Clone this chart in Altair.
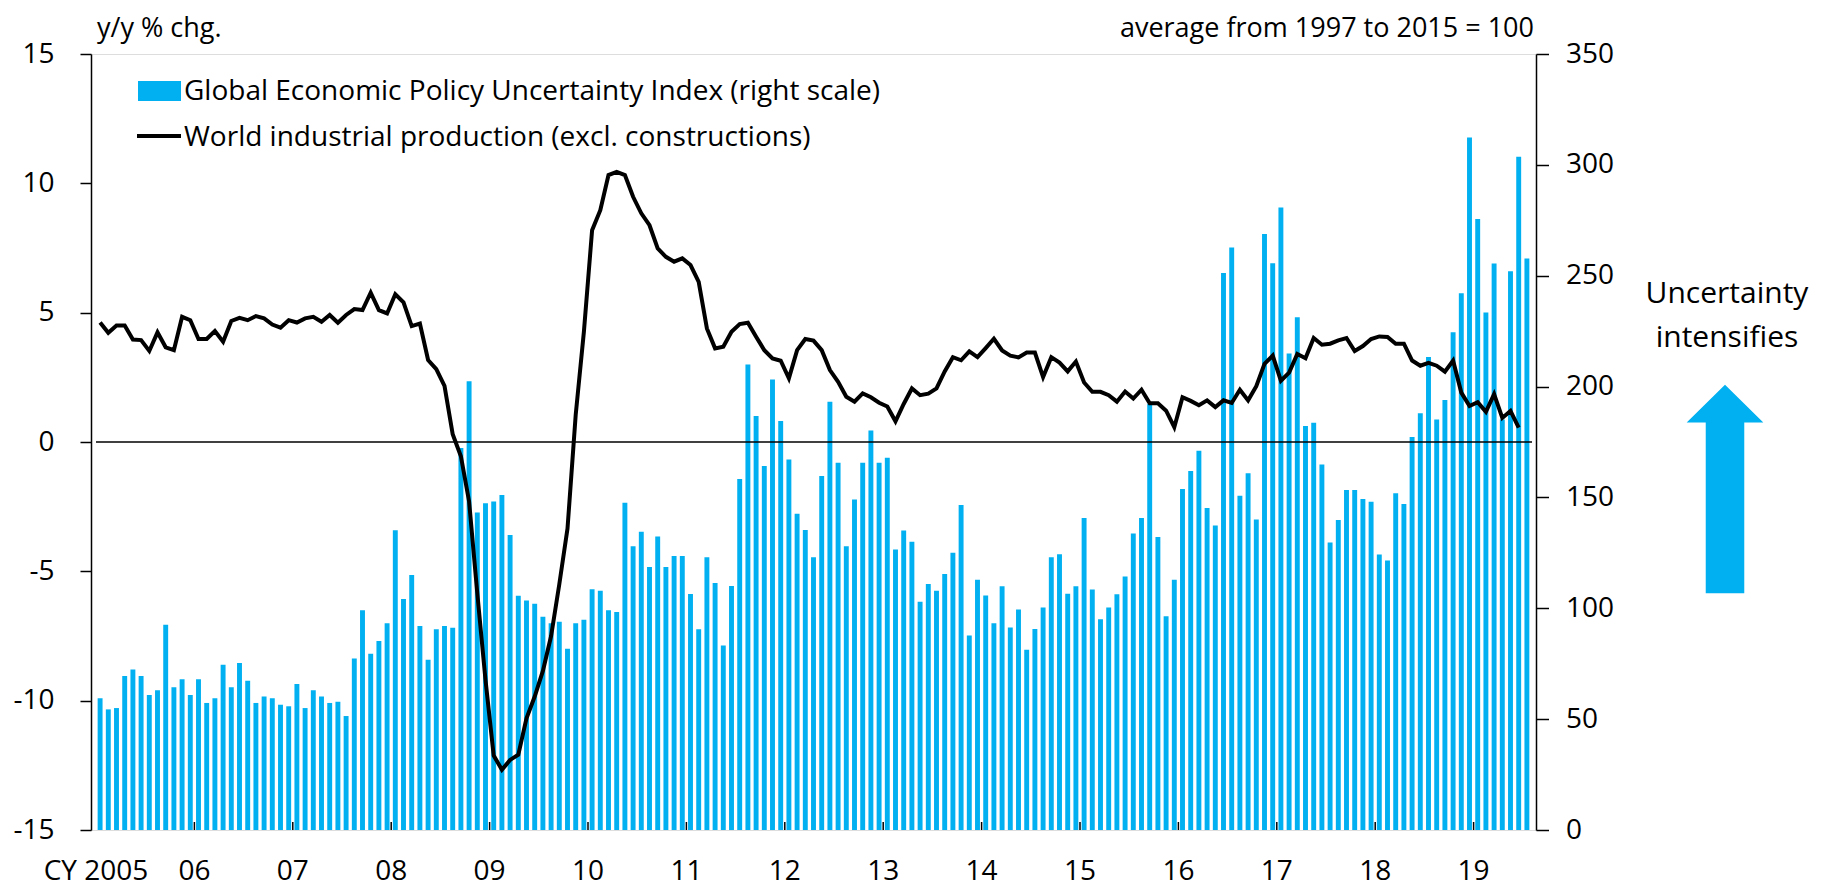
import altair as alt
import pandas as pd

# Global Economic Policy Uncertainty Index (right scale), monthly Jan 2005 - Jul 2019
epu = [
    59.4, 54.4, 55.0, 69.5, 72.4, 69.5, 60.9, 63.0, 92.6, 64.4, 68.0, 60.9,
    68.0, 57.3, 59.4, 74.5, 64.4, 75.3, 67.3, 57.3, 60.2, 59.4, 56.5, 55.8,
    65.9, 55.0, 63.0, 60.2, 57.3, 57.9, 51.4, 77.4, 99.1, 79.5, 85.3, 93.3,
    135.2, 104.2, 115.0, 92.0, 76.8, 90.5, 92.0, 91.2, 172.3, 202.4, 143.2, 147.4,
    148.2, 151.1, 133.0, 105.6, 103.5, 102.0, 96.2, 93.2, 93.9, 81.8, 93.3, 94.8,
    108.6, 107.9, 99.1, 98.3, 147.6, 128.0, 134.5, 118.6, 132.4, 118.6, 123.6, 123.6,
    106.4, 90.5, 123.0, 111.4, 83.2, 110.0, 158.3, 210.0, 186.7, 164.2, 203.2, 184.5,
    167.1, 142.6, 135.3, 123.0, 159.7, 193.2, 165.6, 128.0, 149.1, 165.6, 180.2, 165.6,
    167.9, 126.5, 135.1, 130.0, 103.0, 110.9, 107.9, 115.5, 125.0, 146.6, 87.7, 112.9,
    105.8, 93.3, 109.9, 91.3, 99.4, 81.3, 90.7, 100.4, 123.0, 124.4, 106.5, 109.9,
    140.7, 108.5, 95.0, 100.4, 106.3, 114.3, 133.7, 140.7, 192.1, 132.1, 96.4, 112.9,
    153.8, 161.9, 171.0, 145.2, 137.3, 251.2, 262.7, 150.8, 160.9, 140.1, 268.8, 255.6,
    280.8, 214.9, 231.3, 182.2, 183.7, 164.9, 129.7, 139.8, 153.4, 153.4, 149.3, 148.0,
    124.3, 121.5, 151.9, 147.0, 177.2, 188.0, 213.3, 185.2, 193.9, 224.5, 242.1, 312.3,
    275.6, 233.4, 255.5, 185.2, 252.0, 303.7, 257.8,
]

# World industrial production (excl. constructions), y/y % chg., Jan 2005 - Jun 2019
ip = [
    4.62, 4.22, 4.50, 4.50, 3.96, 3.94, 3.52, 4.24, 3.66, 3.55, 4.84, 4.71,
    3.98, 3.98, 4.29, 3.88, 4.68, 4.80, 4.71, 4.87, 4.78, 4.54, 4.42, 4.71,
    4.62, 4.78, 4.84, 4.65, 4.91, 4.61, 4.91, 5.14, 5.10, 5.77, 5.10, 4.97,
    5.71, 5.40, 4.48, 4.58, 3.17, 2.82, 2.17, 0.30, -0.55, -2.30, -5.85, -9.20,
    -12.12, -12.67, -12.29, -12.09, -10.68, -9.84, -8.85, -7.50, -5.50, -3.35, 1.05, 4.26,
    8.19, 8.96, 10.32, 10.44, 10.32, 9.48, 8.84, 8.38, 7.48, 7.16, 6.97, 7.10,
    6.84, 6.19, 4.39, 3.62, 3.68, 4.26, 4.56, 4.61, 4.07, 3.55, 3.23, 3.14,
    2.46, 3.55, 3.98, 3.92, 3.55, 2.78, 2.33, 1.75, 1.56, 1.88, 1.73, 1.52,
    1.37, 0.80, 1.47, 2.07, 1.81, 1.87, 2.07, 2.73, 3.28, 3.16, 3.50, 3.28,
    3.63, 3.99, 3.54, 3.34, 3.27, 3.46, 3.46, 2.51, 3.28, 3.07, 2.73, 3.11,
    2.30, 1.94, 1.94, 1.81, 1.56, 1.95, 1.68, 2.02, 1.50, 1.50, 1.21, 0.57,
    1.73, 1.59, 1.42, 1.61, 1.35, 1.61, 1.51, 2.02, 1.61, 2.16, 3.02, 3.34,
    2.37, 2.68, 3.40, 3.24, 4.02, 3.76, 3.80, 3.93, 4.02, 3.52, 3.71, 3.98,
    4.08, 4.06, 3.80, 3.80, 3.15, 2.95, 3.06, 2.95, 2.72, 3.15, 1.91, 1.39,
    1.54, 1.17, 1.85, 0.93, 1.20, 0.56,
]

year_labels = ["CY 2005", "06", "07", "08", "09", "10", "11", "12",
               "13", "14", "15", "16", "17", "18", "19"]
left_ticks = [-15, -10, -5, 0, 5, 10, 15]
right_ticks = [0, 50, 100, 150, 200, 250, 300, 350]

BLUE = "#00B0F0"
FONT = "Open Sans"
W, H = 1445, 776
N_MONTHS = len(epu)

bar_df = pd.DataFrame({"m": list(range(len(epu))), "epu": epu})
line_df = pd.DataFrame({"m": list(range(len(ip))), "ip": ip})
year_df = pd.DataFrame({"pos": [12 * k for k in range(len(year_labels))], "lab": year_labels})
tick_df = year_df[year_df["pos"] > 0]

xscale = alt.Scale(domain=[0, N_MONTHS], nice=False, zero=False)
lscale = alt.Scale(domain=[-15, 15], nice=False, zero=False)
rscale = alt.Scale(domain=[0, 350], nice=False)

bars = alt.Chart(bar_df).transform_calculate(
    x0="datum.m + 0.2", x1="datum.m + 0.8"
).mark_bar(color=BLUE, orient="vertical").encode(
    x=alt.X("x0:Q", scale=xscale, axis=None),
    x2="x1:Q",
    y=alt.Y("epu:Q", scale=rscale, axis=alt.Axis(
        orient="right", values=right_ticks, title=None, grid=False,
        tickSize=12.5, tickWidth=1.5, tickColor="black",
        domain=True, domainColor="black", domainWidth=1.5,
        labelFont=FONT, labelFontSize=28, labelColor="black", labelPadding=17,
    )),
    y2=alt.datum(0),
)

zero_rule = alt.Chart(pd.DataFrame({"z": [0]})).mark_rule(color="black", strokeWidth=1.5).encode(
    y=alt.Y("z:Q", scale=lscale, axis=None),
    x=alt.value(5),
    x2=alt.value(W - 4),
)

line = alt.Chart(line_df).transform_calculate(
    xc="datum.m + 0.5"
).mark_line(color="black", strokeWidth=4).encode(
    x=alt.X("xc:Q", scale=xscale, axis=None),
    y=alt.Y("ip:Q", scale=lscale, axis=alt.Axis(
        orient="left", values=left_ticks, title=None, grid=False,
        tickSize=11, tickWidth=1.5, tickColor="black",
        domain=True, domainColor="black", domainWidth=1.5,
        labelFont=FONT, labelFontSize=28, labelColor="black", labelPadding=26,
        labelExpr="datum.value < 0 ? '-' + abs(datum.value) : '' + datum.value",
    )),
)

xticks = alt.Chart(tick_df).mark_rule(color="black", strokeWidth=1.5).encode(
    x=alt.X("pos:Q", scale=xscale, axis=None),
    y=alt.value(H),
    y2=alt.value(H - 8),
)

xlabels = alt.Chart(year_df).mark_text(
    font=FONT, fontSize=28, color="black", align="center", baseline="alphabetic"
).encode(
    x=alt.X("pos:Q", scale=xscale, axis=None),
    y=alt.value(826),
    text="lab:N",
)


def label(text, x, y, align="left", size=28):
    return alt.Chart(pd.DataFrame({"t": [text]})).mark_text(
        font=FONT, fontSize=size, color="black", align=align, baseline="alphabetic"
    ).encode(x=alt.value(x), y=alt.value(y), text="t:N")


one = pd.DataFrame({"k": [0]})
leg_rect = alt.Chart(one).mark_rect(color=BLUE).encode(
    x=alt.value(47), x2=alt.value(90), y=alt.value(27), y2=alt.value(47)
)
leg_line = alt.Chart(one).mark_rule(color="black", strokeWidth=4).encode(
    x=alt.value(46), x2=alt.value(90), y=alt.value(82)
)

arrow_path = ("M 0 -1 L 0.368 -0.638 L 0.185 -0.638 L 0.185 1 "
              "L -0.185 1 L -0.185 -0.638 L -0.368 -0.638 Z")
arrow = alt.Chart(one).mark_point(
    shape=arrow_path, size=43389, filled=True, color=BLUE, opacity=1, strokeWidth=0
).encode(x=alt.value(1634), y=alt.value(435))

chart = alt.layer(
    bars,
    zero_rule,
    line,
    xticks,
    xlabels,
    leg_rect,
    leg_line,
    label("Global Economic Policy Uncertainty Index (right scale)", 93, 46),
    label("World industrial production (excl. constructions)", 93, 92),
    label("y/y % chg.", 6, -17, size=27),
    label("average from 1997 to 2015 = 100", 1443, -17, align="right", size=27),
    label("Uncertainty", 1636, 249, align="center", size=30),
    label("intensifies", 1636, 293, align="center", size=30),
    arrow,
).resolve_scale(y="independent").properties(
    width=W,
    height=H,
    padding={"left": 83, "top": 46, "right": 280, "bottom": 60},
    autosize=alt.AutoSizeParams(type="none"),
).configure_view(
    stroke="black", strokeWidth=1.5
).configure(background="white")

chart.save("out.html", embed_options={"renderer": "svg", "actions": False})
